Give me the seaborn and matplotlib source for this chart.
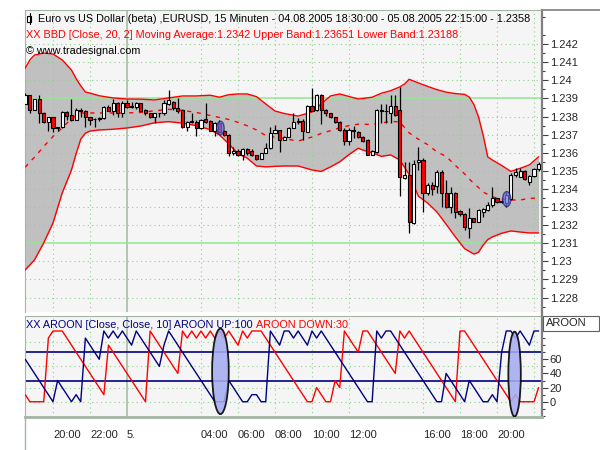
import numpy as np
import pandas as pd
import seaborn as sns
import matplotlib.pyplot as plt
from matplotlib.patches import Ellipse, Rectangle
from matplotlib.lines import Line2D

sns.set_style('white')
plt.rcParams['font.family'] = ['Liberation Sans', 'DejaVu Sans']

# EURUSD 15 min candles, 04.08.2005 18:30 .. 05.08.2005 22:15
opens = [1.2387, 1.2392, 1.23837, 1.23896, 1.23822, 1.23772, 1.23796, 1.23735, 1.2374, 1.23827,
         1.23809, 1.23781, 1.23837, 1.23833, 1.23796, 1.23785, 1.23785, 1.2379, 1.23855, 1.23833,
         1.23874, 1.23822, 1.23877, 1.23855, 1.23855, 1.23874, 1.23837, 1.23818, 1.238, 1.23818,
         1.23818, 1.23871, 1.2388, 1.23846, 1.23837, 1.23745, 1.23772, 1.23772, 1.23735, 1.23785,
         1.23776, 1.2372, 1.23767, 1.23723, 1.23699, 1.23597, 1.23612, 1.23588, 1.2362, 1.23612,
         1.23588, 1.23568, 1.23597, 1.23625, 1.23712, 1.23726, 1.23671, 1.23686, 1.23735, 1.23772,
         1.23776, 1.23717, 1.23858, 1.23836, 1.23919, 1.23836, 1.23818, 1.23796, 1.23772, 1.23726,
         1.23667, 1.23726, 1.23717, 1.23685, 1.23671, 1.23588, 1.23607, 1.23836, 1.2383, 1.23818,
         1.23858, 1.23836, 1.2346, 1.23478, 1.23211, 1.23551, 1.23561, 1.23376, 1.23422, 1.23415,
         1.23495, 1.23376, 1.23302, 1.23376, 1.2328, 1.23261, 1.23182, 1.23237, 1.23219, 1.2327,
         1.23284, 1.23311, 1.23348, 1.2333, 1.2332, 1.23342, 1.23477, 1.23468, 1.23501, 1.2344,
         1.23471, 1.23508]
highs = [1.2393, 1.2392, 1.23896, 1.2392, 1.23827, 1.238, 1.238, 1.23745, 1.23833, 1.2383,
         1.23896, 1.23846, 1.23846, 1.23837, 1.238, 1.2379, 1.238, 1.2386, 1.23865, 1.23895,
         1.2388, 1.23885, 1.2389, 1.23882, 1.2388, 1.23877, 1.2384, 1.23822, 1.23822, 1.23822,
         1.23892, 1.23947, 1.23885, 1.23902, 1.2384, 1.23778, 1.23822, 1.2378, 1.23785, 1.23874,
         1.2378, 1.2377, 1.2378, 1.23726, 1.23702, 1.2363, 1.2362, 1.23625, 1.23625, 1.2362,
         1.2359, 1.236, 1.23656, 1.23745, 1.23754, 1.23726, 1.2369, 1.2374, 1.23822, 1.2379,
         1.23785, 1.23865, 1.23956, 1.23925, 1.23925, 1.2384, 1.2382, 1.238, 1.23775, 1.23735,
         1.23735, 1.2375, 1.2372, 1.2369, 1.23675, 1.23616, 1.2384, 1.23869, 1.23872, 1.23919,
         1.23919, 1.23965, 1.23551, 1.23551, 1.23561, 1.23634, 1.2357, 1.23431, 1.2344, 1.23505,
         1.23505, 1.2345, 1.23412, 1.23385, 1.23284, 1.23265, 1.23293, 1.2324, 1.23288, 1.23293,
         1.2333, 1.23412, 1.23352, 1.23338, 1.23385, 1.23486, 1.23514, 1.23514, 1.23505, 1.23475,
         1.23514, 1.23551]
lows = [1.2387, 1.23818, 1.23837, 1.23767, 1.23767, 1.23723, 1.23717, 1.23723, 1.23735, 1.23781,
        1.23775, 1.23781, 1.238, 1.23745, 1.23754, 1.23745, 1.23775, 1.23785, 1.2383, 1.2381,
        1.238, 1.238, 1.2385, 1.2385, 1.2384, 1.23833, 1.2381, 1.23792, 1.23763, 1.238,
        1.2381, 1.23865, 1.23837, 1.23818, 1.23735, 1.23723, 1.23767, 1.23693, 1.2373, 1.23767,
        1.2372, 1.23693, 1.2371, 1.2369, 1.23583, 1.23588, 1.23583, 1.23561, 1.2359, 1.23583,
        1.2356, 1.23565, 1.23597, 1.2362, 1.23712, 1.23606, 1.2367, 1.23686, 1.23735, 1.2376,
        1.23671, 1.23717, 1.2383, 1.23833, 1.23759, 1.23805, 1.2379, 1.23763, 1.2372, 1.23643,
        1.23643, 1.2368, 1.2368, 1.2366, 1.23585, 1.23585, 1.236, 1.23763, 1.23763, 1.23763,
        1.23805, 1.2336, 1.23455, 1.23155, 1.23205, 1.23505, 1.23275, 1.23366, 1.23366, 1.23376,
        1.23302, 1.23293, 1.23265, 1.23237, 1.2325, 1.23173, 1.23127, 1.23215, 1.23215, 1.23247,
        1.2328, 1.233, 1.23325, 1.23325, 1.23302, 1.2334, 1.23468, 1.23468, 1.2345, 1.23422,
        1.23468, 1.235]
closes = [1.2392, 1.23837, 1.23896, 1.23818, 1.23772, 1.23796, 1.23735, 1.2374, 1.23827, 1.23804,
          1.23781, 1.23837, 1.23832, 1.23796, 1.23781, 1.23786, 1.2379, 1.23855, 1.23833, 1.23874,
          1.23818, 1.23877, 1.23855, 1.23857, 1.23874, 1.23833, 1.23818, 1.238, 1.23818, 1.2382,
          1.23877, 1.2389, 1.23846, 1.23833, 1.23745, 1.23772, 1.23774, 1.23735, 1.23781, 1.23772,
          1.23723, 1.23763, 1.23717, 1.23699, 1.23597, 1.23612, 1.23588, 1.2362, 1.23597, 1.23588,
          1.23565, 1.23597, 1.23625, 1.23712, 1.23726, 1.23671, 1.23686, 1.23735, 1.23772, 1.23776,
          1.23723, 1.23858, 1.23833, 1.23919, 1.23836, 1.23818, 1.23796, 1.23772, 1.23726, 1.23667,
          1.23726, 1.23718, 1.23685, 1.23667, 1.23588, 1.23612, 1.23836, 1.2383, 1.23832, 1.23858,
          1.23809, 1.23468, 1.23478, 1.2322, 1.23538, 1.23561, 1.23376, 1.23422, 1.23398, 1.23495,
          1.23376, 1.23302, 1.23376, 1.23274, 1.2326, 1.23188, 1.23237, 1.23219, 1.23284, 1.23287,
          1.23311, 1.23348, 1.2333, 1.23335, 1.23367, 1.23477, 1.23495, 1.23501, 1.23453, 1.23471,
          1.23508, 1.23538]

# Bollinger band (20, 2) read at some bars
band_idx = [0, 1, 2, 4, 6, 8, 10, 11, 12, 13, 14, 16, 19, 22, 25, 28, 31, 34, 37, 40,
            42, 44, 46, 48, 50, 52, 54, 56, 59, 62, 64, 66, 68, 70, 72, 73, 75, 77, 79, 81,
            82, 83, 85, 87, 89, 91, 93, 95, 96, 97, 98, 99, 100, 101, 103, 105, 107, 109, 111]
upper = [1.24068, 1.24113, 1.2414, 1.24151, 1.24146, 1.24113, 1.24057, 1.2401, 1.2397, 1.23936,
         1.2393, 1.23915, 1.23903, 1.23897, 1.23896, 1.23892, 1.23903, 1.23914, 1.23914, 1.23918,
         1.23907, 1.23921, 1.23925, 1.23925, 1.2391, 1.2387, 1.23831, 1.23817, 1.23803, 1.23825,
         1.2387, 1.23914, 1.23925, 1.23911, 1.23897, 1.239, 1.23907, 1.23929, 1.23943, 1.23964,
         1.2398, 1.24006, 1.23986, 1.23967, 1.23949, 1.23935, 1.23927, 1.23923, 1.23908, 1.23867,
         1.23798, 1.23698, 1.23577, 1.2356, 1.2353, 1.23497, 1.23514, 1.23533, 1.23578]
middle = [1.2352, 1.2355, 1.23575, 1.23635, 1.2369, 1.23738, 1.23788, 1.23805, 1.2382, 1.2382,
          1.2382, 1.2382, 1.2382, 1.2382, 1.23823, 1.23832, 1.2384, 1.23834, 1.23823, 1.23806,
          1.23795, 1.23784, 1.23768, 1.23749, 1.23726, 1.23695, 1.23686, 1.23678, 1.23665, 1.23687,
          1.23707, 1.23722, 1.23738, 1.2375, 1.23758, 1.23758, 1.23756, 1.23764, 1.23774, 1.2377,
          1.2374, 1.2371, 1.23675, 1.23645, 1.23605, 1.2358, 1.2353, 1.23483, 1.23455, 1.2343,
          1.23408, 1.23383, 1.2337, 1.23356, 1.23345, 1.23339, 1.23339, 1.23348, 1.2335]
lower = [1.22953, 1.2298, 1.23008, 1.23102, 1.23212, 1.23378, 1.23505, 1.23595, 1.23675, 1.23708,
         1.2372, 1.23726, 1.2373, 1.23737, 1.23748, 1.23766, 1.23772, 1.23764, 1.2375, 1.23728,
         1.23698, 1.2365, 1.23595, 1.2357, 1.23527, 1.23522, 1.23525, 1.23527, 1.23527, 1.23505,
         1.23497, 1.23522, 1.2355, 1.2359, 1.23625, 1.23615, 1.236, 1.2358, 1.23588, 1.2356,
         1.2352, 1.2348, 1.2336, 1.23322, 1.23273, 1.23205, 1.23135, 1.2307, 1.23055, 1.2304,
         1.2305, 1.2309, 1.2312, 1.23135, 1.23155, 1.23168, 1.23162, 1.23157, 1.23157]

# Aroon (10)
aroon_up = [60, 50, 40, 30, 20, 10, 0, 30, 20, 10, 0, 10, 0, 90, 80, 70, 60,
            100, 90, 100, 90, 100, 90, 80, 100, 90, 80, 70, 60, 50, 80, 100, 90, 80, 70, 60, 50, 40, 30,
            20, 10, 0, 0, 0, 30, 20, 10, 0, 0, 10, 10, 0, 0,
            100, 90, 80, 100, 100, 90, 100, 90, 80, 100, 90, 100, 90, 80, 70, 60, 50, 40, 30, 20, 10, 0, 0,
            100, 90, 100, 100, 90, 80, 70, 60, 50, 40, 30, 20, 10, 0, 0, 40, 30, 20, 10, 0,
            30, 20, 10, 0, 0, 10, 0, 70, 100, 100, 90, 100, 90, 80, 100, 100]
aroon_down = [10, 0, 0, 0, 0, 90, 100, 100, 100, 90, 80, 70, 60, 50, 40, 30, 20,
              10, 80, 70, 60, 50, 40, 30, 20, 10, 0, 100, 90, 80, 70, 60, 50, 40, 100, 90, 100, 90, 100,
              90, 100, 90, 100, 90, 100, 90, 80, 100, 90, 100, 100, 100, 90,
              80, 70, 60, 50, 40, 30, 20, 10, 0, 0, 20, 10, 0, 0, 30, 20, 100, 90, 80, 70, 100, 100, 90,
              80, 70, 60, 50, 40, 100, 90, 100, 90, 80, 70, 60, 50, 40, 30, 20, 10, 0, 100, 100,
              90, 80, 70, 60, 50, 40, 30, 20, 10, 0, 10, 0, 0, 0, 0, 20]

price_ticks = [1.228, 1.229, 1.23, 1.231, 1.232, 1.233, 1.234, 1.235, 1.236, 1.237,
               1.238, 1.239, 1.24, 1.241, 1.242]
time_ticks = [6, 14, 22, 38, 46, 54, 62, 70, 86, 94, 102]
time_labels = ['20:00', '22:00', '5.', '04:00', '06:00', '08:00', '10:00', '12:00',
               '16:00', '18:00', '20:00']
grid_bars = time_ticks + [110]

W, H = 600, 450
fs = 7.8
fig = plt.figure(figsize=(6, 4.5), dpi=100)
fig.patch.set_facecolor('white')


def box(x0, y0, x1, y1):
    return [x0 / W, 1 - y1 / H, (x1 - x0) / W, (y1 - y0) / H]


ax1 = fig.add_axes(box(24.5, 10, 541.5, 312))
ax2 = fig.add_axes(box(24.5, 316, 541.5, 417))
bg = '#f5f5f5'
dotc = '#8fcf8f'
for ax in (ax1, ax2):
    ax.set_facecolor(bg)
    ax.set_xlim(-0.16, 111.62)
    for s in ('left', 'top'):
        ax.spines[s].set_color('#a3b5a3')
    ax.spines['right'].set_color('#808080')
    ax.spines['right'].set_linewidth(1.6)
    for b in grid_bars:
        if b == 22:
            ax.axvline(b, color='#a8bca8', lw=1.2, zorder=1.5)
        else:
            ax.axvline(b, color=dotc, lw=0.8, ls=(0, (1, 3)), zorder=1.5)

ax1.spines['bottom'].set_visible(False)
ax2.spines['bottom'].set_color('#a3b5a3')
ax2.spines['bottom'].set_linewidth(2)

# upper panel
ax1.set_ylim(1.22720, 1.24389)
ax1.fill_between(band_idx, lower, upper, color='#c0c0c0', lw=0, zorder=1)
for p in price_ticks:
    if p in (1.239, 1.231):
        ax1.axhline(p, color='#90e890', lw=1.1, zorder=1.6)
    else:
        ax1.axhline(p, color=dotc, lw=0.8, ls=(0, (1, 3)), zorder=1.6)
sns.lineplot(x=band_idx, y=upper, ax=ax1, color='red', lw=1, zorder=3)
sns.lineplot(x=band_idx, y=lower, ax=ax1, color='red', lw=1, zorder=3)
sns.lineplot(x=band_idx, y=middle, ax=ax1, color='red', lw=1, linestyle=(0, (3, 4)), zorder=3)

bars = np.arange(len(closes))
o = np.array(opens)
c = np.array(closes)
ax1.vlines(bars, lows, highs, color='black', lw=0.9, zorder=4)
body_col = np.where(c >= o, 'white', 'red')
ax1.bar(bars, np.maximum(np.abs(c - o), 0.000012), bottom=np.minimum(o, c), width=0.68,
        color=body_col, edgecolor='black', lw=0.8, zorder=5)

ax1.add_patch(Ellipse((42.2, 1.23737), 1.6, 0.00075, fc=(0.42, 0.46, 0.92), alpha=0.7,
                      ec='#1c1c60', lw=1, zorder=6))
ax1.add_patch(Ellipse((104.1, 1.23344), 1.75, 0.00083, fc=(0.42, 0.46, 0.92), alpha=0.7,
                      ec='#1c1c60', lw=1, zorder=6))

ax1.set_xticks([])
ax1.yaxis.tick_right()
ax1.set_yticks(price_ticks)
ax1.set_yticklabels([f'{p:.3f}'.rstrip('0') for p in price_ticks])
ax1.set_yticks(np.arange(1.2275, 1.2440, 0.001), minor=True)
ax1.tick_params(axis='y', which='major', direction='out', length=4, width=0.8,
                color='#404040', labelsize=8, pad=2)
ax1.tick_params(axis='y', which='minor', direction='out', length=2, width=0.8, color='#404040')

# lower panel
ax2.set_ylim(-21.6, 121.2)
for v in (0, 20, 50, 85):
    ax2.axhline(v, color=dotc, lw=0.8, ls=(0, (1, 3)), zorder=1.6)
for v in (70, 30):
    ax2.axhline(v, color='#000080', lw=1.2, zorder=2)
sns.lineplot(x=bars, y=aroon_down, ax=ax2, color='red', lw=1, zorder=3)
sns.lineplot(x=bars, y=aroon_up, ax=ax2, color='#000080', lw=1, zorder=3)
ax2.add_patch(Ellipse((42.2, 43), 3.6, 121, fc='#a6acf0', alpha=0.88, ec='black', lw=1.3, zorder=6))
ax2.add_patch(Ellipse((105.8, 39), 2.7, 120, fc='#a6acf0', alpha=0.88, ec='black', lw=1.3, zorder=6))

ax2.yaxis.tick_right()
ax2.set_yticks([0, 20, 40, 60])
ax2.set_yticks(np.arange(-20, 121, 10), minor=True)
ax2.tick_params(axis='y', which='major', direction='out', length=4, width=0.8,
                color='#404040', labelsize=8, pad=2)
ax2.tick_params(axis='y', which='minor', direction='out', length=2, width=0.8, color='#404040')
ax2.set_xticks(time_ticks)
ax2.set_xticklabels(time_labels, ha='left')
ax2.set_xticks(np.arange(0, 112, 2), minor=True)
ax2.tick_params(axis='x', which='major', direction='out', length=5, width=0.8,
                color='#606060', labelsize=8, pad=4)
ax2.tick_params(axis='x', which='minor', direction='out', length=3, width=0.8, color='#606060')
ax2.set_xlabel('')
ax2.set_ylabel('')
ax1.set_ylabel('')

# frame pieces outside the axes
fig.add_artist(Line2D([24.5 / W, 24.5 / W], [0, 1 - 417 / H], color='#a3b5a3', lw=1))
fig.add_artist(Line2D([541.5 / W, 541.5 / W], [1 - 316 / H, 1 - 312 / H], color='#808080', lw=1.6))
fig.add_artist(Line2D([541.5 / W, 1], [1 - 10 / H, 1 - 10 / H], color='#808080', lw=1.2))
fig.add_artist(Rectangle((542.5 / W, 1 - 331 / H), 56 / W, 15 / H, fc='white', ec='#606060', lw=0.8))
fig.text(546 / W, 1 - 323.5 / H, 'AROON', fontsize=8, va='center', ha='left')

# candle icon and header text
fig.add_artist(Rectangle((27.5 / W, 1 - 21.5 / H), 4 / W, 6 / H, fc='white', ec='black', lw=0.8))
fig.add_artist(Line2D([29.5 / W, 29.5 / W], [1 - 24 / H, 1 - 13 / H], color='black', lw=0.8))
fig.text(38 / W, 1 - 18.5 / H,
         'Euro vs US Dollar (beta) ,EURUSD, 15 Minuten - 04.08.2005 18:30:00 - 05.08.2005 22:15:00 - 1.2358',
         fontsize=fs, va='center', ha='left', color='black')
fig.text(26 / W, 1 - 34.5 / H,
         'XX BBD [Close, 20, 2] Moving Average:1.2342 Upper Band:1.23651 Lower Band:1.23188',
         fontsize=fs, va='center', ha='left', color='red')
fig.text(26 / W, 1 - 51 / H, '\u00a9 www.tradesignal.com', fontsize=fs, va='center', ha='left',
         color='black')
t_up = fig.text(26 / W, 1 - 325 / H, 'XX AROON [Close, Close, 10] AROON UP:100', fontsize=fs,
                va='center', ha='left', color='#000080', zorder=10)
fig.canvas.draw()
bb = t_up.get_window_extent()
fig.text((bb.x1 + 3) / W, 1 - 325 / H, 'AROON DOWN:30', fontsize=fs, va='center', ha='left',
         color='red', zorder=10)

fig.savefig('out.png', dpi=100, facecolor='white')
